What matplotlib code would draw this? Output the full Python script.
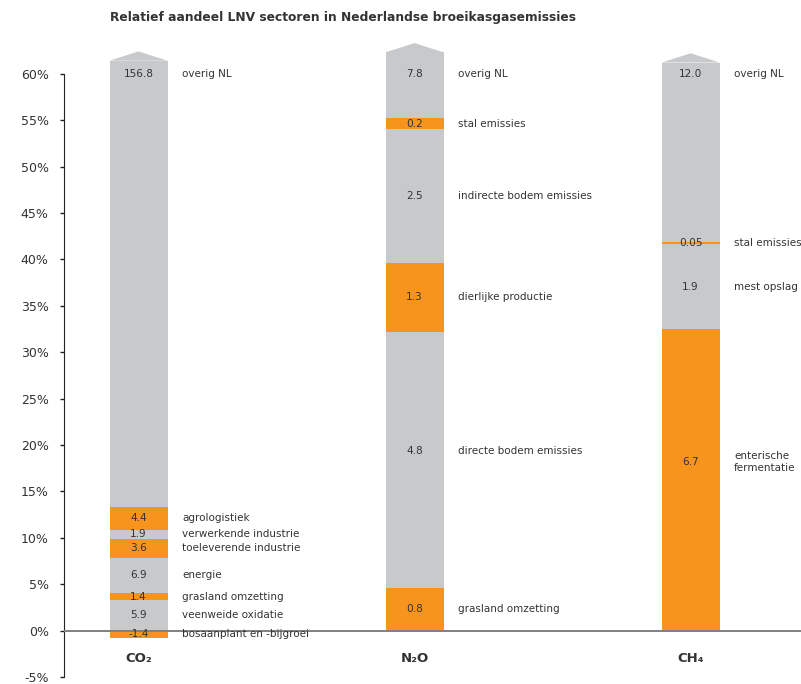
import matplotlib
matplotlib.use("Agg")
import matplotlib.pyplot as plt
from matplotlib.patches import Polygon

# emissies per bron (Mton CO2-eq), van onder naar boven
gases = ['CO₂', 'N₂O', 'CH₄']

co2_values = [-1.4, 5.9, 1.4, 6.9, 3.6, 1.9, 4.4, 156.8]
co2_labels = ['bosaanplant en -bijgroei', 'veenweide oxidatie', 'grasland omzetting',
              'energie', 'toeleverende industrie', 'verwerkende industrie',
              'agrologistiek', 'overig NL']
co2_lnv = [True, False, True, False, True, False, True, False]

n2o_values = [0.8, 4.8, 1.3, 2.5, 0.2, 7.8]
n2o_labels = ['grasland omzetting', 'directe bodem emissies', 'dierlijke productie',
              'indirecte bodem emissies', 'stal emissies', 'overig NL']
n2o_lnv = [True, False, True, False, True, False]

ch4_values = [6.7, 1.9, 0.05, 12.0]
ch4_labels = ['enterische\nfermentatie', 'mest opslag', 'stal emissies', 'overig NL']
ch4_lnv = [True, False, True, False]

value_fmt = {'CH₄': ['6.7', '1.9', '0.05', '12.0']}

ORANGE = '#f7941d'
GRAY = '#c8c9cb'
TXT = '#333333'

# layout: where the bars are cut off (in %), and a few label heights (in %)
top_cut = [61.4, 62.3, 61.2]
label_y_override = {('N₂O', 'directe bodem emissies'): 19.3,
                    ('CH₄', 'enterische\nfermentatie'): 18.2}

fig = plt.figure(figsize=(8.01, 6.84), dpi=100)
ax = fig.add_axes([64 / 801, 7 / 684, 1 - 64 / 801, 659 / 684])
ax.set_xlim(-0.27, 2.40)
ax.set_ylim(-5, 66)

width = 0.21
series = [(co2_values, co2_labels, co2_lnv),
          (n2o_values, n2o_labels, n2o_lnv),
          (ch4_values, ch4_labels, ch4_lnv)]

for i, (vals, labs, lnv) in enumerate(series):
    gas = gases[i]
    total = sum(v for v in vals if v > 0)
    pos = 0.0
    neg = 0.0
    for j, v in enumerate(vals):
        share = v / total * 100
        if share < 0:
            bottom = neg + share
            neg = bottom
        else:
            bottom = pos
            pos += share
        h = abs(share)
        top = bottom + h
        last = j == len(vals) - 1
        if last:
            top = top_cut[i]
            h = top - bottom
        color = ORANGE if lnv[j] else GRAY
        ax.bar(i, h, width=width, bottom=bottom, color=color, linewidth=0, zorder=2)
        if last:
            arrow = Polygon([(i - width / 2, top), (i, top + 1.0), (i + width / 2, top)],
                            closed=True, facecolor=color, edgecolor='none', zorder=2)
            ax.add_patch(arrow)
            ly = 60
        else:
            ly = bottom + h / 2
        ly = label_y_override.get((gas, labs[j]), ly)
        txt = value_fmt[gas][j] if gas in value_fmt else '%.1f' % v
        ax.text(i, ly, txt, ha='center', va='center', fontsize=7.6, color=TXT, zorder=4)
        ax.text(i + 0.158, ly, labs[j], ha='left', va='center', fontsize=7.5,
                color=TXT, zorder=4, linespacing=1.25)
    ax.text(i, -3.0, gas, ha='center', va='center', fontsize=9.5,
            fontweight='bold', color=TXT)

ax.axhline(0, color='#808080', linewidth=1.4, zorder=3)

ax.set_yticks(range(-5, 61, 5))
ax.set_yticklabels(['%d%%' % t for t in range(-5, 61, 5)])
ax.tick_params(axis='y', labelsize=9, colors='#222222', length=3, width=1, pad=8,
               labelcolor=TXT)
ax.set_xticks([])
for s in ['top', 'right', 'bottom']:
    ax.spines[s].set_visible(False)
ax.spines['left'].set_bounds(-5, 60)
ax.spines['left'].set_color('#222222')

fig.text(110 / 801, 1 - 18 / 684, 'Relatief aandeel LNV sectoren in Nederlandse broeikasgasemissies',
         ha='left', va='center', fontsize=8.8, fontweight='bold', color=TXT)

fig.savefig('out.png', dpi=100)
